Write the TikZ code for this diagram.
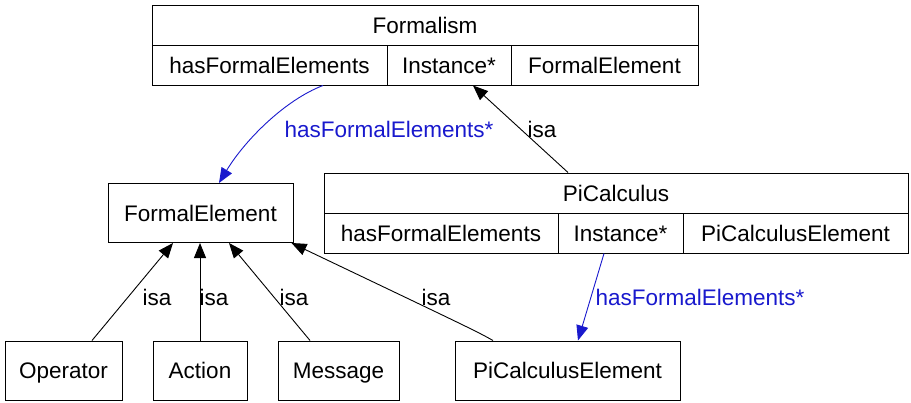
\documentclass[tikz,border=0pt]{standalone}
\usepackage{fontspec}
\setmainfont{Liberation Sans}
\usetikzlibrary{arrows.meta}
\definecolor{relblue}{RGB}{25,25,205}
\begin{document}
\begin{tikzpicture}[x=1pt,y=-1pt,
  txt/.style={font=\fontsize{22.5}{27}\selectfont, text height=16.1pt, text depth=0pt},
  cell/.style={txt, draw, line width=1pt, inner sep=0pt, minimum height=40pt},
  cls/.style={cell, minimum height=59pt},
  isa/.style={draw=black, line width=0.9pt, -{Triangle[length=15pt,width=12pt]}},
  rel/.style={isa, draw=relblue},
  lbl/.style={txt, inner sep=0pt},
  rellbl/.style={lbl, text=relblue}
]
\useasboundingbox (0,0) rectangle (911,402);

% Formalism record
\node[cell, minimum width=546pt] (fmTitle) at (425,25)   {Formalism};
\node[cell, minimum width=235pt] (fmHas)   at (269.5,65) {hasFormalElements};
\node[cell, minimum width=124pt] (fmInst)  at (449,65)   {Instance*};
\node[cell, minimum width=187pt] (fmElem)  at (604.5,65) {FormalElement};

% PiCalculus record
\node[cell, minimum width=584pt] (pcTitle) at (616,193)   {PiCalculus};
\node[cell, minimum width=234pt] (pcHas)   at (441,233)   {hasFormalElements};
\node[cell, minimum width=125pt] (pcInst)  at (620.5,233) {Instance*};
\node[cell, minimum width=225pt] (pcElem)  at (795.5,233) {PiCalculusElement};

% plain classes
\node[cls, minimum width=185pt] (fe)  at (200.5,213)   {FormalElement};
\node[cls, minimum width=117pt] (op)  at (63.5,370.5)  {Operator};
\node[cls, minimum width=94pt]  (act) at (200,370.5)   {Action};
\node[cls, minimum width=121pt] (msg) at (338.5,370.5) {Message};
\node[cls, minimum width=225pt] (pce) at (567.5,370.5) {PiCalculusElement};

% relations
\draw[rel] ([xshift=53.5pt]fmHas.south) .. controls (285,100) and (245,140) .. ([xshift=18.5pt]fe.north);
\draw[rel] ([xshift=-16.5pt]pcInst.south) -- ([xshift=10.5pt]pce.north);

% isa links
\draw[isa] ([xshift=-48pt]pcTitle.north) -- ([xshift=24pt]fmInst.south);
\draw[isa] ([xshift=28.5pt]op.north) -- ([xshift=-27.5pt]fe.south);
\draw[isa] (act.north) -- (fe.south -| act.north);
\draw[isa] ([xshift=-28.5pt]msg.north) -- ([xshift=28.5pt]fe.south);
\draw[isa] ([xshift=-74.5pt]pce.north) .. controls (476,331) .. ([xshift=-2pt]fe.south east);

% labels
\node[rellbl] (lRel1) at (389,129) {hasFormalElements*};
\node[lbl]    (lIsa1) at (542,129) {isa};
\node[rellbl] (lRel2) at (700,297) {hasFormalElements*};
\node[lbl]    (lIsa2) at (157,297) {isa};
\node[lbl]    (lIsa3) at (214,297) {isa};
\node[lbl]    (lIsa4) at (294,297) {isa};
\node[lbl]    (lIsa5) at (436,297) {isa};
\end{tikzpicture}
\end{document}
